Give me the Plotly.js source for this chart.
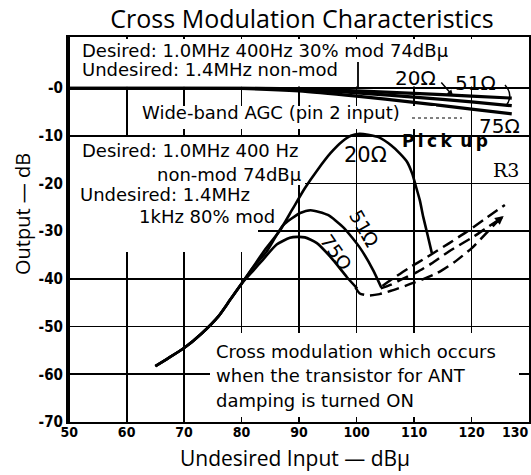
<!DOCTYPE html>
<html><head><meta charset="utf-8">
<script src="https://cdn.plot.ly/plotly-3.0.1.min.js"></script>
<style>html,body{margin:0;padding:0;background:#fff}#chart{width:531px;height:475px}</style>
</head><body><div id="chart"></div>
<script>
// ---- data ----
const xTickVals = [50, 60, 70, 80, 90, 100, 110, 120, 130];
const xTickText = ['50', '60', '70', '80', '90', '100', '110', '120', '130'];
const yTickVals = [0, -10, -20, -30, -40, -50, -60, -70];
const yTickText = ['-0', '-10', '-20', '-30', '-40', '-50', '-60', '-70'];

// Wide-band AGC (pin 2 input)
const agcX   = [50, 60, 70, 80, 90, 100, 110, 120, 127];
const agc20  = [0, 0, 0, 0, -0.2, -0.6, -1.1, -1.7, -2.1];
const agc51  = [0, 0, 0, 0, -0.3, -1.0, -1.9, -2.9, -3.7];
const agc75  = [0, 0, 0, -0.1, -0.6, -1.7, -3.0, -4.4, -5.4];

// Pick up R3, solid curves
const pick20X = [65, 67, 70, 73, 76, 78, 80, 82, 84, 86.7, 88.8, 91, 93.3, 95.5, 97.5, 99, 100.5, 102, 104, 106, 107.6, 108.8, 109.7, 110.3, 111, 111.6, 112.4, 113.1];
const pick20Y = [-58.3, -56.8, -54.5, -51.5, -47.8, -44.4, -41, -37.5, -34, -29.8, -25.5, -21, -17, -13.6, -11.2, -10, -9.6, -9.8, -10.4, -12, -13.8, -15.5, -18, -20.5, -23.5, -27, -31, -34.6];
const pick51X = [65, 67, 70, 73, 76, 78, 80, 82, 84.4, 87.2, 90.2, 92, 95, 97.7, 100.6, 102.9, 104.3];
const pick51Y = [-58.3, -56.8, -54.5, -51.5, -47.8, -44.4, -41, -37.6, -34.2, -28.8, -26.2, -25.6, -26.6, -29.2, -33.5, -38.2, -41.8];
const pick75X = [65, 67, 70, 73, 76, 78, 80, 82, 83.7, 86.1, 88.4, 89.7, 91, 93.1, 95.9, 98.3, 100.1];
const pick75Y = [-58.3, -56.8, -54.5, -51.5, -47.8, -44.4, -41, -38.3, -36, -32.8, -31.4, -31.2, -31.3, -32.5, -36, -39.6, -42];

// ANT damping ON, dashed curves
const dash20X = [104.5, 106, 109, 112.3, 116, 119.2, 122.5, 125.8];
const dash20Y = [-41.5, -40.2, -37.8, -35.4, -32.6, -30.1, -27.3, -24.5];
const dash51X = [104.2, 106, 108, 110.5, 113, 116, 120.3, 123, 125.3];
const dash51Y = [-42, -41.2, -40, -38.6, -36.8, -34.3, -31.2, -29, -27.2];
const dash75X = [99.8, 100.5, 102, 104, 106, 110, 114, 117, 120, 122.5, 124.8];
const dash75Y = [-41.8, -43, -43.5, -43.2, -42.5, -40.8, -38.8, -36.5, -33.6, -30.5, -27.6];

// ---- layout helpers (pixel -> paper) ----
const L = 68, R = 529, T = 37, B = 422;
const px = x => (x - L) / (R - L);
const py = y => (B - y) / (B - T);
const DJ = 'DejaVu Sans', OS = 'Open Sans', TF = 'DejaVu Sans Condensed, DejaVu Sans';

function ann(text, x, y, o) {
  o = o || {};
  return Object.assign({
    xref: 'paper', yref: 'paper', x: px(x), y: py(y), text: text, showarrow: false,
    xanchor: 'left', yanchor: 'middle',
    font: {family: o.family || DJ, size: o.size || 18, color: '#000', weight: o.weight || 'normal'}
  }, o.extra || {});
}
function rect(x0, y0, x1, y1) {
  return {type: 'rect', xref: 'paper', yref: 'paper', x0: px(x0), x1: px(x1), y0: py(y1), y1: py(y0),
          fillcolor: '#fff', line: {width: 0}, layer: 'above'};
}
function seg(x0, y0, x1, y1, w, dash) {
  return {type: 'line', xref: 'paper', yref: 'paper', x0: px(x0), y0: py(y0), x1: px(x1), y1: py(y1),
          line: {color: '#000', width: w || 1.5, dash: dash || 'solid'}, layer: 'above'};
}

const solid = (x, y, w) => ({x: x, y: y, type: 'scatter', mode: 'lines', line: {color: '#000', width: w || 2.6, shape: 'spline', smoothing: 0.6}, hoverinfo: 'skip'});
const dashed = (x, y) => ({x: x, y: y, type: 'scatter', mode: 'lines', line: {color: '#000', width: 2.5, dash: '12px,6px', shape: 'spline', smoothing: 0.6}, hoverinfo: 'skip'});

const data = [
  solid(agcX, agc20, 3.2), solid(agcX, agc51, 3.2), solid(agcX, agc75, 3.2),
  solid(pick20X, pick20Y), solid(pick51X, pick51Y), solid(pick75X, pick75Y),
  dashed(dash20X, dash20Y), dashed(dash51X, dash51Y), dashed(dash75X, dash75Y)
];

const shapes = [
  rect(70, 39, 527, 86.5),      // upper note box
  rect(131, 106, 436, 129),     // AGC label
  rect(70, 137, 305, 185),      // desired/undesired block
  rect(70, 185, 290, 210),
  rect(70, 210, 258, 252),
  rect(210, 333, 519, 417),     // bottom note
  seg(358, 62, 358, 88, 1.8),   // gridline stub above 0
  seg(412, 118, 462, 118, 1, 'dot'),
  {type: 'path', xref: 'paper', yref: 'paper', layer: 'above', line: {color: '#000', width: 1.5},
   path: 'M' + px(505) + ',' + py(85) + ' Q' + px(514) + ',' + py(95) + ' ' + px(506) + ',' + py(106)}
];

const lastX = xTickVals[xTickVals.length - 1];
const annotations = [
  ann('Desired: 1.0MHz 400Hz 30% mod 74dB\u03bc', 80, 50),
  ann('Undesired: 1.4MHz non-mod', 80, 69),
  ann('20\u03a9', 393, 78, {size: 20}),
  ann('51\u03a9', 453, 83, {size: 20}),
  ann('75\u03a9', 477, 126, {size: 20}),
  {xref: 'paper', yref: 'paper', x: px(453), y: py(96), ax: -13, ay: -15, showarrow: true,
   arrowhead: 2, arrowsize: 0.8, arrowwidth: 1.5, arrowcolor: '#000', text: ''},
  {xref: 'x', yref: 'y', axref: 'x', ayref: 'y', x: 125.6, y: -26.8, ax: 123.8, ay: -28.6, showarrow: true,
   arrowhead: 2, arrowsize: 0.7, arrowwidth: 2.5, arrowcolor: '#000', text: ''},
  ann('Wide-band AGC (pin 2 input)', 140, 113),
  ann('Desired: 1.0MHz 400 Hz', 80, 150),
  ann('non-mod 74dB\u03bc', 304, 174, {extra: {xanchor: 'right'}}),
  ann('Undesired: 1.4MHz', 78, 194),
  ann('1kHz 80% mod', 137, 216),
  ann('20\u03a9', 342, 155, {size: 21}),
  ann('P\u2009i\u2009c\u2009k\u2002u\u2009p', 400, 141, {size: 17, weight: 'bold'}),
  ann('R3', 521, 170, {family: 'DejaVu Serif', size: 19, extra: {xanchor: 'right'}}),
  ann('51\u03a9', 364, 228, {size: 19, extra: {xanchor: 'center', textangle: 60}}),
  ann('75\u03a9', 336, 252, {size: 19, extra: {xanchor: 'center', textangle: 55}}),
  ann('Cross modulation which occurs', 214, 351),
  ann('when the transistor for ANT', 214, 375),
  ann('damping is turned ON', 214, 400),
  ann('Output \u2014 dB', 22, 214, {family: OS, size: 20, extra: {xanchor: 'center', textangle: -90}}),
  ann('Undesired Input \u2014 dB\u03bc', 295, 458, {family: OS, size: 21, extra: {xanchor: 'center'}}),
  // last x tick label, pulled inside the page edge
  {xref: 'x', yref: 'paper', x: lastX, y: py(432), xanchor: 'right', yanchor: 'middle', xshift: 2,
   text: xTickText[xTickText.length - 1], showarrow: false,
   font: {family: TF, size: 14, color: '#000', weight: 'bold'}}
];

const axisCommon = {
  showgrid: true, gridcolor: '#000', gridwidth: 1.8, zeroline: false,
  showline: true, mirror: true, linecolor: '#000', linewidth: 2, ticks: '',
  tickfont: {family: TF, size: 14, color: '#000', weight: 'bold'}, fixedrange: true
};

const layout = {
  width: 531, height: 475, autosize: false,
  margin: {l: L, r: 531 - R, t: T, b: 475 - B, pad: 0},
  paper_bgcolor: '#fff', plot_bgcolor: '#fff', showlegend: false,
  title: {text: 'Cross Modulation Characteristics', xref: 'container', yref: 'container',
          x: 302 / 531, xanchor: 'center', y: 1 - 19 / 475, yanchor: 'middle',
          font: {family: OS, size: 25, color: '#000'}},
  xaxis: Object.assign({}, axisCommon, {range: [49.8, 130], tickvals: xTickVals.slice(0, -1),
          ticktext: xTickText.slice(0, -1), ticklabelstandoff: -4}),
  yaxis: Object.assign({}, axisCommon, {range: [-70, 10.7], tickvals: yTickVals,
          ticktext: yTickText, tickfont: {family: TF, size: 15, color: '#000', weight: 'bold'}}),
  shapes: shapes, annotations: annotations
};

Plotly.newPlot('chart', data, layout, {displayModeBar: false, staticPlot: true});
</script></body></html>
